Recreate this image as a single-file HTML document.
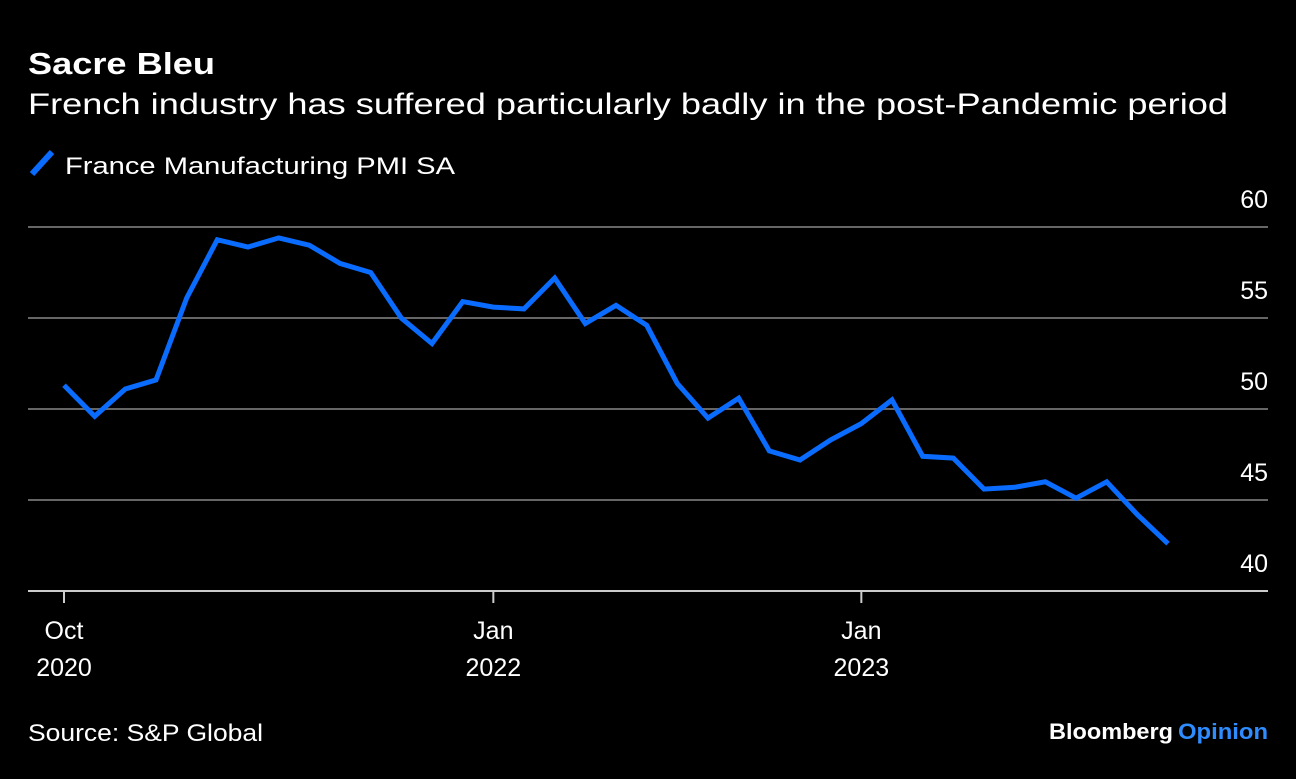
<!DOCTYPE html>
<html><head><meta charset="utf-8"><style>
body{margin:0;background:#000;width:1296px;height:774px;overflow:hidden;font-family:"Liberation Sans",sans-serif;color:#fff}
</style></head><body>
<svg width="1296" height="774" xmlns="http://www.w3.org/2000/svg">
<text x="28" y="74" font-size="31" font-weight="bold" fill="#fff" textLength="187" lengthAdjust="spacingAndGlyphs">Sacre Bleu</text>
<text x="28" y="114" font-size="30" fill="#fff" textLength="1200" lengthAdjust="spacingAndGlyphs">French industry has suffered particularly badly in the post-Pandemic period</text>
<line x1="32" y1="174" x2="52" y2="152" stroke="#0a6cff" stroke-width="6"/>
<text x="65" y="174" font-size="24" fill="#fff" textLength="390" lengthAdjust="spacingAndGlyphs">France Manufacturing PMI SA</text>
<g id="grid"></g><g id="xaxis"></g>
<path id="line" fill="none" stroke="#0a6cff" stroke-width="5" stroke-linejoin="miter"/>
<text x="28" y="741" font-size="24" fill="#fff" textLength="235" lengthAdjust="spacingAndGlyphs">Source: S&amp;P Global</text>
<text x="1173" y="739" font-size="22" font-weight="bold" fill="#fff" text-anchor="end" textLength="124" lengthAdjust="spacingAndGlyphs">Bloomberg</text>
<text x="1268" y="739" font-size="22" font-weight="bold" fill="#2f8cff" text-anchor="end" textLength="90" lengthAdjust="spacingAndGlyphs">Opinion</text>
</svg>
<script>
const values=[51.3,49.6,51.1,51.6,56.1,59.3,58.9,59.4,59.0,58.0,57.5,55.0,53.6,55.9,55.6,55.5,57.2,54.7,55.7,54.6,51.4,49.5,50.6,47.7,47.2,48.3,49.2,50.5,47.4,47.3,45.6,45.7,46.0,45.1,46.0,44.2,42.6];
const yTicks=[40,45,50,55,60];
const xTickIdx=[0,14,26];
const xTickLabels=[["Oct","2020"],["Jan","2022"],["Jan","2023"]];
const NS="http://www.w3.org/2000/svg";
const y=v=>591-(v-40)*18.2;
const x=i=>64+i*(1168-64)/36;
const grid=document.getElementById('grid');
yTicks.forEach(t=>{
  const l=document.createElementNS(NS,'line');
  l.setAttribute('x1',28);l.setAttribute('x2',1268);l.setAttribute('y1',y(t));l.setAttribute('y2',y(t));
  l.setAttribute('stroke',t===40?'#ccc':'#666');l.setAttribute('stroke-width',2);
  
  
  grid.appendChild(l);
  const tx=document.createElementNS(NS,'text');
  tx.setAttribute('x',1268);tx.setAttribute('y',y(t)-19);tx.setAttribute('text-anchor','end');
  tx.setAttribute('font-size',25);tx.setAttribute('fill','#fff');tx.textContent=t;
  
  
  grid.appendChild(tx);
});
const xa=document.getElementById('xaxis');
xTickIdx.forEach((idx,k)=>{
  const l=document.createElementNS(NS,'line');
  l.setAttribute('x1',x(idx));l.setAttribute('x2',x(idx));l.setAttribute('y1',591);l.setAttribute('y2',603);
  l.setAttribute('stroke','#ccc');l.setAttribute('stroke-width',2);
  
  
  xa.appendChild(l);
  xTickLabels[k].forEach((s,j)=>{
    const tx=document.createElementNS(NS,'text');
    tx.setAttribute('x',x(idx));tx.setAttribute('y',639+j*37);tx.setAttribute('text-anchor','middle');
    tx.setAttribute('font-size',25);tx.setAttribute('fill','#fff');tx.textContent=s;
    
    
    xa.appendChild(tx);
  });
});
document.getElementById('line').setAttribute('d',values.map((v,i)=>(i?'L':'M')+x(i).toFixed(1)+','+y(v).toFixed(1)).join(' '));
</script>
</body></html>
